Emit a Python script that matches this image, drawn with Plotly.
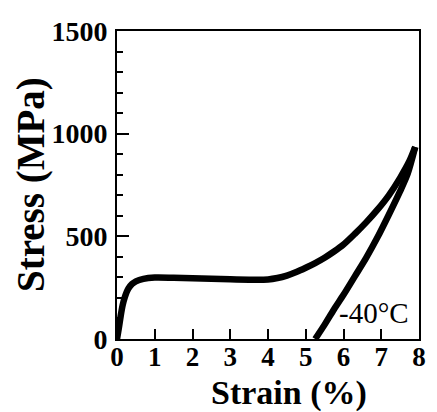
import plotly.graph_objects as go

# Loading branch (strain %, stress MPa)
load_strain = [0.0, 0.05, 0.1, 0.15, 0.2, 0.3, 0.4, 0.5, 0.7, 1.0, 1.5, 2.0, 2.5, 3.0, 3.5, 4.0,
               4.25, 4.5, 4.75, 5.0, 5.25, 5.5, 5.75, 6.0, 6.3, 6.6, 6.9, 7.2, 7.5, 7.75, 7.9]
load_stress = [0, 55, 115, 165, 200, 245, 268, 281, 293, 299, 298, 296, 294, 291, 289, 290,
               297, 309, 326, 347, 370, 396, 426, 460, 512, 568, 630, 700, 785, 868, 935]

# Unloading branch
unload_strain = [7.9, 7.7, 7.5, 7.2, 6.9, 6.6, 6.3, 6.0, 5.75, 5.5, 5.25]
unload_stress = [935, 805, 720, 605, 495, 395, 305, 215, 145, 70, 0]

x_ticks = [0, 1, 2, 3, 4, 5, 6, 7, 8]
y_ticks = [0, 500, 1000, 1500]
label = "-40°C"

SERIF = "Liberation Serif, Times New Roman, serif"

fig = go.Figure()
fig.add_trace(go.Scatter(x=load_strain, y=load_stress, mode="lines",
                         line=dict(color="black", width=6.5, shape="spline", smoothing=0.8),
                         showlegend=False))
fig.add_trace(go.Scatter(x=unload_strain, y=unload_stress, mode="lines",
                         line=dict(color="black", width=6.5, shape="spline", smoothing=0.8),
                         showlegend=False))

fig.update_layout(
    width=437, height=412,
    margin=dict(l=117, r=11, t=31, b=73),
    paper_bgcolor="white", plot_bgcolor="white",
    font=dict(family=SERIF, color="black"),
)
fig.update_xaxes(
    range=[0, 8], tickvals=x_ticks, ticktext=[str(v) for v in x_ticks],
    ticks="inside", ticklen=10, tickwidth=2, tickcolor="black",
    showline=True, linewidth=2, linecolor="black", mirror=True,
    showgrid=False, zeroline=False,
    tickfont=dict(family=SERIF, size=27, color="black", weight="bold"),
    ticklabelstandoff=-7,
)
fig.update_yaxes(
    range=[0, 1500], tickvals=y_ticks, ticktext=[str(v) for v in y_ticks],
    ticks="inside", ticklen=12, tickwidth=2, tickcolor="black",
    minor=dict(dtick=100, ticks="inside", ticklen=6, tickwidth=1.5, tickcolor="black", showgrid=False),
    showline=True, linewidth=2, linecolor="black", mirror=True,
    showgrid=False, zeroline=False,
    tickfont=dict(family=SERIF, size=28, color="black", weight="bold"),
    ticklabelstandoff=2,
)

fig.add_annotation(text="Strain (%)", xref="paper", yref="paper", x=0.568, y=-0.176,
                   showarrow=False, xanchor="center", yanchor="middle",
                   font=dict(family=SERIF, size=34, color="black", weight="bold"))
fig.add_annotation(text="Stress (MPa)", xref="paper", yref="paper", x=-0.285, y=0.503,
                   textangle=-90, showarrow=False, xanchor="center", yanchor="middle",
                   font=dict(family=SERIF, size=39, color="black", weight="bold"))
fig.add_annotation(text=label, x=6.82, y=125, xref="x", yref="y", showarrow=False,
                   xanchor="center", yanchor="middle",
                   font=dict(family=SERIF, size=29, color="black"))

fig.write_html("out.html", config={"displayModeBar": False},
               post_script="document.body.style.margin='0';")
